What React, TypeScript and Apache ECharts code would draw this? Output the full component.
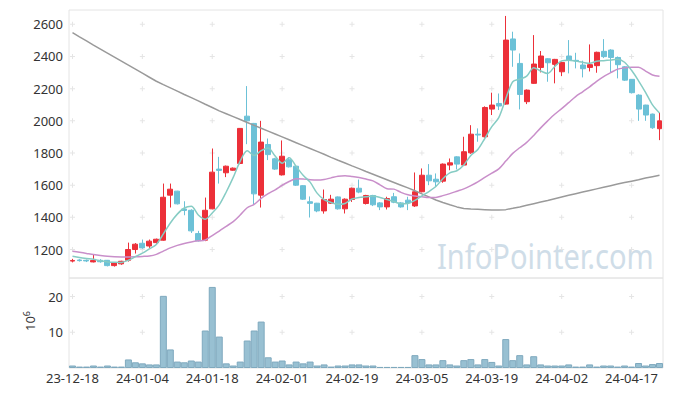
import React, { useEffect, useRef } from "react";
import * as echarts from "echarts";

const dates = [
  "23-12-18", "23-12-19", "23-12-20", "23-12-21", "23-12-22", "23-12-26", "23-12-27", "23-12-28",
  "24-01-02", "24-01-03", "24-01-04", "24-01-05", "24-01-08", "24-01-09", "24-01-10", "24-01-11",
  "24-01-12", "24-01-15", "24-01-16", "24-01-17", "24-01-18", "24-01-19", "24-01-22", "24-01-23",
  "24-01-24", "24-01-25", "24-01-26", "24-01-29", "24-01-30", "24-01-31",
  "24-02-01", "24-02-02", "24-02-05", "24-02-06", "24-02-07", "24-02-08", "24-02-13", "24-02-14",
  "24-02-15", "24-02-16", "24-02-19", "24-02-20", "24-02-21", "24-02-22", "24-02-23", "24-02-26",
  "24-02-27", "24-02-28", "24-02-29",
  "24-03-04", "24-03-05", "24-03-06", "24-03-07", "24-03-08", "24-03-11", "24-03-12", "24-03-13",
  "24-03-14", "24-03-15", "24-03-18", "24-03-19", "24-03-20", "24-03-21", "24-03-22", "24-03-25",
  "24-03-26", "24-03-27", "24-03-28", "24-03-29",
  "24-04-01", "24-04-02", "24-04-03", "24-04-04", "24-04-05", "24-04-08", "24-04-09", "24-04-11",
  "24-04-12", "24-04-15", "24-04-16", "24-04-17", "24-04-18", "24-04-19", "24-04-22", "24-04-23",
];

const opens = [
  1128, 1135, 1133, 1123, 1133, 1133, 1100, 1111, 1133, 1200,
  1239, 1222, 1243, 1258, 1538, 1563, 1452, 1444, 1299, 1258,
  1453, 1700, 1677, 1693, 1735, 2029, 1984, 1538, 1853, 1764,
  1664, 1758, 1718, 1597, 1497, 1488, 1440, 1488, 1527, 1453,
  1511, 1581, 1486, 1536, 1490, 1465, 1528, 1490, 1507, 1471,
  1559, 1662, 1637, 1625, 1725, 1776, 1725, 1801, 1917, 1901,
  2073, 2108, 2104, 2509, 2357, 2119, 2233, 2332, 2386, 2351,
  2305, 2403, 2376, 2347, 2332, 2343, 2432, 2440, 2394, 2336,
  2258, 2160, 2098, 2042, 1951,
];
const closes = [
  1132, 1131, 1129, 1132, 1124, 1100, 1117, 1127, 1200, 1233,
  1210, 1252, 1264, 1525, 1575, 1484, 1443, 1316, 1254, 1444,
  1681, 1692, 1718, 1706, 1953, 2000, 1546, 1868, 1790, 1700,
  1780, 1714, 1600, 1513, 1487, 1440, 1511, 1513, 1453, 1513,
  1581, 1557, 1536, 1478, 1465, 1517, 1494, 1465, 1490, 1559,
  1662, 1627, 1621, 1731, 1739, 1731, 1808, 1917, 1912, 2083,
  2098, 2092, 2502, 2440, 2164, 2191, 2353, 2403, 2361, 2382,
  2363, 2378, 2372, 2324, 2349, 2426, 2399, 2394, 2349, 2253,
  2175, 2073, 2036, 1957, 2000,
];
const lows = [
  1120, 1125, 1122, 1120, 1118, 1095, 1094, 1105, 1125, 1175,
  1205, 1210, 1235, 1255, 1461, 1480, 1413, 1303, 1250, 1252,
  1450, 1610, 1650, 1690, 1730, 1855, 1478, 1461, 1756, 1695,
  1660, 1710, 1595, 1508, 1399, 1432, 1423, 1483, 1448, 1424,
  1496, 1550, 1480, 1470, 1445, 1449, 1488, 1460, 1445, 1465,
  1555, 1600, 1590, 1615, 1693, 1698, 1720, 1795, 1870, 1895,
  2036, 2067, 2100, 2336, 2071, 2104, 2230, 2301, 2243, 2233,
  2278, 2295, 2326, 2270, 2307, 2299, 2390, 2301, 2264, 2248,
  2170, 2000, 2000, 1950, 1880,
];
const highs = [
  1142, 1140, 1138, 1170, 1140, 1135, 1120, 1130, 1243, 1240,
  1262, 1262, 1268, 1610, 1610, 1565, 1500, 1450, 1316, 1523,
  1828, 1776, 1722, 1710, 1955, 2216, 1987, 2000, 1890, 1770,
  1878, 1774, 1722, 1600, 1530, 1490, 1573, 1540, 1530, 1518,
  1585, 1635, 1540, 1540, 1495, 1528, 1552, 1495, 1528, 1679,
  1704, 1731, 1673, 1735, 1766, 1780, 1901, 1973, 1953, 2090,
  2175, 2170, 2652, 2554, 2419, 2195, 2533, 2434, 2390, 2385,
  2368, 2502, 2423, 2374, 2475, 2430, 2508, 2445, 2400, 2340,
  2260, 2165, 2100, 2045, 2050,
];

// volume in millions of shares
const volumes = [
  0.7, 0.4, 0.4, 0.7, 0.4, 0.7, 0.4, 0.4, 2.4, 1.6,
  1.3, 1.0, 1.0, 20.2, 5.2, 1.8, 1.6, 2.1, 1.8, 10.5,
  22.7, 8.8, 1.3, 0.7, 1.8, 7.7, 10.5, 13.0, 3.0, 1.8,
  2.1, 1.0, 1.8, 1.3, 1.8, 0.7, 1.0, 0.4, 0.7, 0.7,
  1.0, 1.0, 0.7, 0.7, 0.3, 0.3, 0.3, 0.3, 0.3, 3.6,
  2.5, 1.0, 1.0, 2.2, 1.0, 0.7, 2.2, 2.5, 1.0, 2.5,
  1.7, 0.7, 8.1, 2.2, 3.6, 1.0, 3.3, 1.0, 0.7, 0.7,
  0.7, 1.0, 0.4, 0.4, 1.0, 0.4, 0.7, 0.7, 0.4, 0.7,
  0.4, 1.4, 0.7, 1.1, 1.4,
];

// moving-average values before enough visible closes exist
const ma5Head = [1158, 1150, 1144, 1139];
const ma20Head = [
  1190, 1183, 1176, 1169, 1163, 1158, 1155, 1154, 1154, 1155,
  1157, 1160, 1170, 1190, 1210, 1226, 1238, 1247, 1254,
];
// long moving average (gray)
const maLong = [
  2548, 2522, 2497, 2471, 2446, 2421, 2396, 2371, 2346, 2321,
  2296, 2271, 2246, 2225, 2205, 2185, 2164, 2144, 2124, 2103,
  2083, 2062, 2044, 2026, 2008, 1990, 1972, 1954, 1936, 1918,
  1900, 1882, 1864, 1846, 1828, 1810, 1792, 1773, 1755, 1738,
  1720, 1703, 1685, 1668, 1651, 1634, 1617, 1600, 1583, 1565,
  1546, 1527, 1508, 1492, 1478, 1465, 1455, 1452, 1450, 1448,
  1446, 1445, 1448, 1456, 1465, 1475, 1485, 1495, 1505, 1516,
  1527, 1537, 1547, 1557, 1567, 1577, 1587, 1597, 1607, 1616,
  1625, 1634, 1644, 1653, 1662,
];

const priceTicks = [1200, 1400, 1600, 1800, 2000, 2200, 2400, 2600];
const volumeTicks = [10, 20];
const labelEvery = 10;
const priceMin = 1023;
const priceMax = 2689;
const volumeMax = 25.2;

function movingAverage(values: number[], n: number, head: number[]) {
  return values.map((_, i) => {
    if (i < n - 1) return head[i];
    let s = 0;
    for (let k = i - n + 1; k <= i; k++) s += values[k];
    return Math.round((s / n) * 10) / 10;
  });
}

const CROSS = "path://M2,0H3V5H2Z M0,2H5V3H0Z";

export default function App() {
  const ref = useRef<HTMLDivElement>(null);
  useEffect(() => {
    if (!ref.current) return;
    const chart = echarts.init(ref.current, null, { renderer: "svg" });

    const candles = dates.map((_, i) => [opens[i], closes[i], lows[i], highs[i]]);
    const ma5 = movingAverage(closes, 5, ma5Head);
    const ma20 = movingAverage(closes, 20, ma20Head);
    const labelIdx = dates.map((_, i) => i).filter((i) => i % labelEvery === 0);
    const priceCross: number[][] = [];
    labelIdx.forEach((i) => priceTicks.forEach((t) => priceCross.push([i, t])));
    const volCross: number[][] = [];
    labelIdx.forEach((i) => volumeTicks.forEach((t) => volCross.push([i, t])));

    const labelStyle = { fontSize: 13, color: "#333333", fontFamily: "Noto Sans" };
    const noAxis = {
      axisLine: { show: false },
      axisTick: { show: false },
      splitLine: { show: false },
    };
    const plain = (v: number) => String(v);

    chart.setOption({
      animation: false,
      backgroundColor: "#ffffff",
      textStyle: { fontFamily: "Noto Sans" },
      grid: [
        { left: 69, right: 10, top: 10, height: 268, show: true, borderColor: "#e4e4e4", borderWidth: 1, backgroundColor: "transparent" },
        { left: 69, right: 10, top: 278, height: 90, show: true, borderColor: "#e4e4e4", borderWidth: 1, backgroundColor: "transparent" },
      ],
      xAxis: [
        { type: "category", gridIndex: 0, data: dates, boundaryGap: true, ...noAxis, axisLabel: { show: false } },
        {
          type: "category", gridIndex: 1, data: dates, boundaryGap: true, ...noAxis,
          axisLabel: { ...labelStyle, interval: labelEvery - 1, margin: 3 },
        },
      ],
      yAxis: [
        {
          type: "value", gridIndex: 0, min: priceMin, max: priceMax, scale: true, ...noAxis,
          axisLabel: { ...labelStyle, margin: 6, customValues: priceTicks, formatter: plain },
        },
        {
          type: "value", gridIndex: 1, min: 0, max: volumeMax, ...noAxis,
          axisLabel: { ...labelStyle, margin: 6, customValues: volumeTicks, formatter: plain },
        },
      ],
      graphic: [
        {
          type: "text",
          x: 437,
          y: 238,
          scaleX: 0.83,
          z: 0,
          silent: true,
          style: {
            text: "InfoPointer.com",
            fill: "#cfdde8",
            fontSize: 35,
            fontFamily: "Noto Sans",
            align: "left",
            verticalAlign: "top",
          },
        },
        {
          type: "text",
          x: 30,
          y: 321,
          rotation: Math.PI / 2,
          silent: true,
          style: {
            text: "10{s|6}",
            fill: "#333333",
            fontSize: 13,
            fontFamily: "Noto Sans",
            align: "center",
            verticalAlign: "middle",
            rich: { s: { fontSize: 9, fontFamily: "Noto Sans", fill: "#333333", verticalAlign: "top", lineHeight: 16 } },
          },
        },
      ],
      series: [
        {
          type: "scatter", xAxisIndex: 0, yAxisIndex: 0, data: priceCross, symbol: CROSS, symbolSize: 5,
          itemStyle: { color: "#dedede" }, silent: true, z: 1,
        },
        {
          type: "scatter", xAxisIndex: 1, yAxisIndex: 1, data: volCross, symbol: CROSS, symbolSize: 5,
          itemStyle: { color: "#dedede" }, silent: true, z: 1,
        },
        {
          type: "bar", xAxisIndex: 1, yAxisIndex: 1, data: volumes, barWidth: "100%",
          itemStyle: { color: "#98c0d2", borderColor: "#7fa9be", borderWidth: 1 },
        },
        {
          type: "candlestick", xAxisIndex: 0, yAxisIndex: 0, data: candles, barWidth: "78%",
          itemStyle: { color: "#ec3039", color0: "#6cc1d7", borderColor: "#ec3039", borderColor0: "#6cc1d7", borderWidth: 1 },
        },
        {
          type: "line", xAxisIndex: 0, yAxisIndex: 0, data: maLong, showSymbol: false,
          lineStyle: { color: "#9a9a9a", width: 1.5 },
        },
        {
          type: "line", xAxisIndex: 0, yAxisIndex: 0, data: ma20, showSymbol: false, smooth: 0.3,
          lineStyle: { color: "#c98fca", width: 1.5 },
        },
        {
          type: "line", xAxisIndex: 0, yAxisIndex: 0, data: ma5, showSymbol: false, smooth: 0.3,
          lineStyle: { color: "#86ccc4", width: 1.5 },
        },
      ],
    });
    return () => chart.dispose();
  }, []);
  return <div ref={ref} style={{ position: "fixed", left: 0, top: 0, width: 673, height: 396 }} />;
}
